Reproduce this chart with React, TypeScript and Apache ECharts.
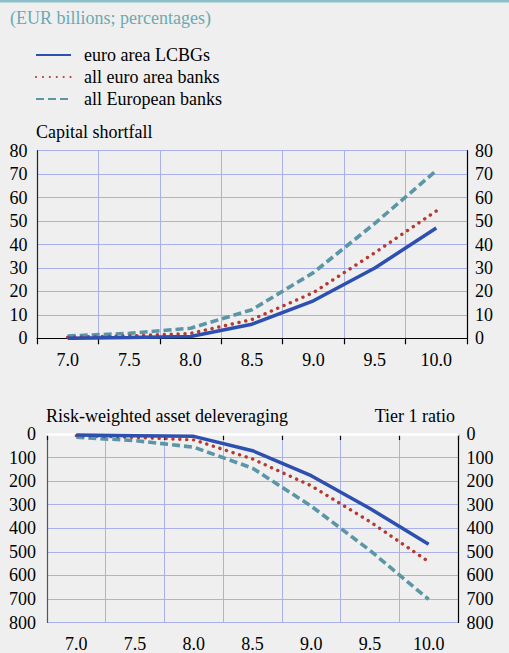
import React, { useEffect, useRef } from "react";
import * as echarts from "echarts";

const categories = ["7.0", "7.5", "8.0", "8.5", "9.0", "9.5", "10.0"];
const seriesNames = ["euro area LCBGs", "all euro area banks", "all European banks"];
const shortfallLCBG = [0, 0.3, 0.8, 6, 16, 30, 47];
const shortfallEA = [0.5, 1, 2.1, 8, 19.5, 36.5, 54.3];
const shortfallEU = [1, 2.1, 4.3, 12.2, 28, 49, 71.5];
const delevLCBG = [4, 7, 10, 71, 177, 316, 468];
const delevEA = [7, 14, 25, 106, 220, 372, 542];
const delevEU = [14, 28, 56, 145, 306, 494, 702];

const FONT = "Liberation Serif";
const FS = 18;
const BLUE = "#2d4fb0";
const RED = "#b5392f";
const TEAL = "#5b96a6";
const GRIDC = "#aab0e8";

export default function App() {
  const ref = useRef<HTMLDivElement>(null);
  useEffect(() => {
    document.body.style.margin = "0";
    const chart = echarts.init(ref.current!, null, { renderer: "svg" });
    const txt = { fontFamily: FONT, fontSize: FS, color: "#000" };
    const lineStyles = [
      { color: BLUE, width: 3.5, type: "solid" },
      { color: RED, width: 3.4, type: [0.1, 6.8], cap: "round" },
      { color: TEAL, width: 3.6, type: [8, 4] },
    ];
    const mk = (i: number, data: number[], axisIdx: number) => ({
      name: seriesNames[i],
      type: "line",
      xAxisIndex: axisIdx,
      yAxisIndex: axisIdx * 2,
      data,
      symbol: "none",
      lineStyle: lineStyles[i],
      itemStyle: { color: lineStyles[i].color },
      z: 5 - i,
    });
    const xBase = (gridIndex: number, margin: number) => ({
      type: "category",
      gridIndex,
      data: categories,
      boundaryGap: true,
      offset: 1.5,
      axisLine: { show: true, lineStyle: { color: "#000", width: 1.2 } },
      axisTick: { show: true, inside: false, length: 6, lineStyle: { color: "#000", width: 1.2 } },
      axisLabel: { ...txt, margin },
      splitLine: { show: true, lineStyle: { color: GRIDC, width: 1 } },
    });
    const yBase = (gridIndex: number, max: number, interval: number, pos: string, margin: number, inverse: boolean, split: boolean, lineColor: string) => ({
      type: "value",
      gridIndex,
      min: 0,
      max,
      interval,
      inverse,
      position: pos,
      axisLine: { show: true, lineStyle: { color: lineColor, width: 1.2 } },
      axisTick: { show: false },
      axisLabel: { ...txt, margin },
      splitLine: { show: split, lineStyle: { color: GRIDC, width: 1 } },
    });
    chart.setOption({
      animation: false,
      backgroundColor: "#efefef",
      textStyle: { fontFamily: FONT },
      legend: {
        orient: "vertical",
        left: 35,
        top: 46,
        padding: 0,
        itemWidth: 35,
        itemHeight: 14,
        itemGap: 4,
        itemStyle: { opacity: 0 },
        data: seriesNames,
        textStyle: { ...txt, padding: [0, 0, 0, 8] },
      },
      grid: [
        { left: 37, right: 42, top: 150.7, height: 187.6 },
        { left: 47, right: 51, top: 434, height: 188.7 },
      ],
      xAxis: [
        xBase(0, 11),
        xBase(1, 11),
        {
          type: "category",
          gridIndex: 1,
          position: "top",
          data: categories,
          z: 3,
          axisLine: { show: true, lineStyle: { color: "#ffffff", width: 2.5 } },
          axisTick: { show: false },
          axisLabel: { show: false },
          splitLine: { show: false },
        },
      ],
      yAxis: [
        yBase(0, 80, 10, "left", 9.5, false, true, "#222"),
        yBase(0, 80, 10, "right", 8, false, false, "#000"),
        yBase(1, 800, 100, "left", 11, true, true, "#555"),
        yBase(1, 800, 100, "right", 8.5, true, false, "#000"),
      ],
      series: [
        mk(0, shortfallLCBG, 0),
        mk(1, shortfallEA, 0),
        mk(2, shortfallEU, 0),
        mk(0, delevLCBG, 1),
        mk(1, delevEA, 1),
        mk(2, delevEU, 1),
      ],
      graphic: [
        { type: "rect", left: 0, top: 0, shape: { width: 509, height: 2.5 }, style: { fill: "#8cc0c8" } },
        { type: "text", x: 10, y: 18, style: { text: "(EUR billions; percentages)", fontFamily: FONT, fontSize: FS, fill: "#6aaab2", verticalAlign: "middle" } },
        { type: "text", x: 36, y: 132, style: { text: "Capital shortfall", fontFamily: FONT, fontSize: FS, fill: "#000", verticalAlign: "middle" } },
        { type: "text", x: 46, y: 416, style: { text: "Risk-weighted asset deleveraging", fontFamily: FONT, fontSize: FS, fill: "#000", verticalAlign: "middle" } },
        { type: "text", x: 455, y: 416, style: { text: "Tier 1 ratio", fontFamily: FONT, fontSize: FS, fill: "#000", verticalAlign: "middle", align: "right" } },
      ],
    });
    return () => chart.dispose();
  }, []);
  return <div ref={ref} style={{ width: 509, height: 653 }} />;
}
